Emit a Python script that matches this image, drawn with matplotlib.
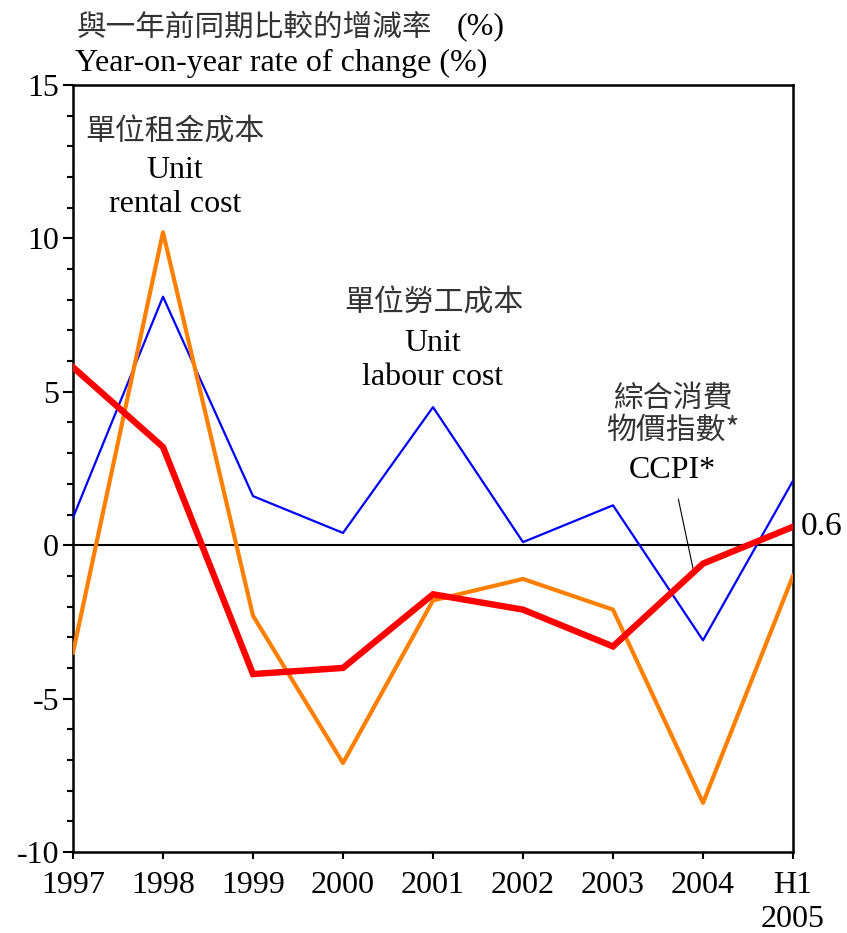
import matplotlib
matplotlib.use("Agg")
import matplotlib.pyplot as plt
from matplotlib.ticker import MultipleLocator

# positions 0..8 along the x axis
periods = list(range(9))
period_labels = ["1997", "1998", "1999", "2000", "2001", "2002", "2003", "2004", "H1\n2005"]

rental_cost = [-3.5, 10.2, -2.3, -7.1, -1.8, -1.1, -2.1, -8.4, -1.0]
labour_cost = [0.9, 8.1, 1.6, 0.4, 4.5, 0.1, 1.3, -3.1, 2.1]
ccpi = [5.8, 3.2, -4.2, -4.0, -1.6, -2.1, -3.3, -0.6, 0.6]

serif = ["Liberation Serif", "DejaVu Serif"]
cjk = ["Noto Sans CJK TC", "Liberation Serif", "DejaVu Sans"]
cjk_color = "#333333"

plt.rcParams["font.family"] = serif
plt.rcParams["axes.unicode_minus"] = False

fig = plt.figure(figsize=(8.47, 9.33), dpi=100)
ax = fig.add_axes([73 / 847, 1 - 852 / 933, 720 / 847, 767 / 933])

ax.plot(periods, labour_cost, color="#0000ff", lw=1.6, zorder=3)
ax.plot(periods, rental_cost, color="#ff8000", lw=3.0, zorder=4)
ax.plot(periods, ccpi, color="#ff0000", lw=4.6, zorder=5, solid_joinstyle="miter")
ax.axhline(0, color="black", lw=1.5, zorder=2)

ax.set_xlim(0, 8)
ax.set_ylim(-10, 15)
ax.set_xticks(periods)
ax.set_xticklabels(period_labels)
ax.yaxis.set_major_locator(MultipleLocator(5))
ax.yaxis.set_minor_locator(MultipleLocator(1))
ax.tick_params(axis="y", which="major", length=7, width=1.5, labelsize=23, pad=3)
ax.tick_params(axis="y", which="minor", length=4.5, width=1.5)
ax.tick_params(axis="x", length=5, width=1.5, labelsize=23, pad=9)
for lbl in ax.get_xticklabels():
    lbl.set_linespacing(1.2)
for sp in ax.spines.values():
    sp.set_linewidth(1.8)

# series labels
ax.text(1.13, 13.47, "單位租金成本", family=cjk, color=cjk_color, fontsize=21.5,
        ha="center", va="center")
ax.text(1.13, 12.2, "Unit", fontsize=23, ha="center", va="center")
ax.text(1.13, 11.1, "rental cost", fontsize=23, ha="center", va="center")

ax.text(4.01, 7.9, "單位勞工成本", family=cjk, color=cjk_color, fontsize=21.5,
        ha="center", va="center")
ax.text(4.0, 6.56, "Unit", fontsize=23, ha="center", va="center")
ax.text(4.0, 5.46, "labour cost", fontsize=23, ha="center", va="center")

ax.text(6.66, 4.8, "綜合消費", family=cjk, color=cjk_color, fontsize=21.5,
        ha="center", va="center")
ax.text(6.66, 3.75, "物價指數*", family=cjk, color=cjk_color, fontsize=21.5,
        ha="center", va="center")
ax.annotate("CCPI*", xy=(6.9, -0.91), xytext=(6.66, 2.42), fontsize=23,
            ha="center", va="center",
            arrowprops=dict(arrowstyle="-", color="black", lw=0.8,
                            shrinkA=8, shrinkB=0))

ax.text(8.09, ccpi[-1], "0.6", fontsize=24, ha="left", va="center", clip_on=False)

# title
fig.text(77 / 847, 1 - 27 / 933, "與一年前同期比較的增減率", family=cjk, color=cjk_color,
         fontsize=21.3, ha="left", va="center")
fig.text(457 / 847, 1 - 27 / 933, "(%)", fontsize=23, ha="left", va="center")
fig.text(75 / 847, 1 - 63 / 933, "Year-on-year rate of change (%)", fontsize=23,
         ha="left", va="center")

fig.savefig("out.png", dpi=100)
